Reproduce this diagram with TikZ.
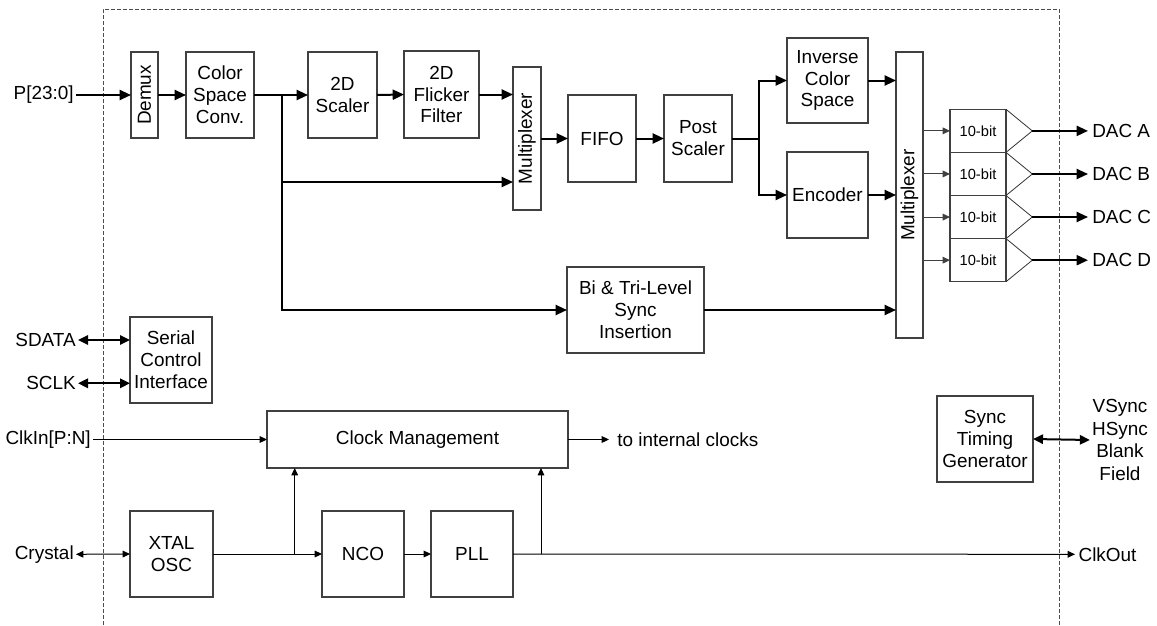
\documentclass[tikz,border=0pt]{standalone}
\usepackage{fontspec}
\setmainfont{Liberation Sans}
\usetikzlibrary{arrows.meta}
\tikzset{
  x=0.75pt, y=-0.75pt,
  box/.style={draw=black!75, line width=0.8pt, inner sep=0pt, outer sep=0pt, align=center, font=\fontsize{14.2}{16.4}\selectfont},
  lbl/.style={inner sep=1.5pt, align=center, font=\fontsize{14.2}{16.8}\selectfont},
  thk/.style={line width=1.5pt, -{Triangle[length=8.5pt,width=7.5pt]}},
  thkb/.style={line width=1.5pt, {Triangle[length=7.5pt,width=7pt]}-{Triangle[length=7.5pt,width=7pt]}},
  thn/.style={line width=0.75pt, -{Triangle[length=5.5pt,width=5pt]}},
  thnb/.style={line width=0.75pt, {Triangle[length=5.5pt,width=5pt]}-{Triangle[length=5.5pt,width=5pt]}},
  thkplain/.style={line width=1.5pt},
  thnplain/.style={line width=0.75pt},
  border/.style={draw=black!70, line width=0.6pt, dash pattern=on 3pt off 1.5pt},
  tri/.style={draw=black!80, line width=0.6pt},
}
\newcommand\blk[6]{\node[box, minimum width={(#4-#2)*0.75pt}, minimum height={(#5-#3)*0.75pt}] (#1) at ({(#2+#4)/2},{(#3+#5)/2}) {#6};}
\begin{document}
\begin{tikzpicture}
\useasboundingbox (0,0) rectangle (1157,625);
% border
\draw[border] (103,625) -- (103,9) -- (1059.5,9) -- (1059.5,625);

% blocks
\blk{demux}{131}{52}{158}{138}{\rotatebox{90}{Demux}}
\blk{csc}{186}{52}{254}{138}{Color\\Space\\Conv.}
\blk{sc2d}{308}{52}{377}{138}{2D\\Scaler}
\blk{flick}{404}{51}{479}{138}{2D\\Flicker\\Filter}
\blk{muxa}{513}{67}{541}{210}{\rotatebox{90}{Multiplexer}}
\blk{fifo}{568}{95}{636}{182}{FIFO}
\blk{post}{664}{95}{732}{182}{Post\\Scaler}
\blk{ics}{787}{38}{868}{123}{Inverse\\Color\\Space}
\blk{enc}{787}{152}{868}{238}{Encoder}
\blk{muxb}{896}{52}{923}{338}{\rotatebox{90}{Multiplexer}}
\begin{scope}[box/.append style={font=\fontsize{11}{13}\selectfont}]
\blk{dA}{950}{109.3}{1006}{152.4}{10-bit}
\blk{dB}{950}{152.4}{1006}{195.5}{10-bit}
\blk{dC}{950}{195.5}{1006}{238.6}{10-bit}
\blk{dD}{950}{238.6}{1006}{281.7}{10-bit}
\end{scope}
\blk{bts}{567}{267}{704}{353}{Bi \& Tri-Level\\Sync\\Insertion}
\blk{sci}{130}{317}{212}{403}{Serial\\Control\\Interface}
\blk{cm}{267}{411}{568}{468}{Clock Management}
\blk{xtal}{130}{511}{213}{597}{XTAL\\OSC}
\blk{nco}{322}{511}{404}{597}{NCO}
\blk{pll}{431}{511}{513}{597}{PLL}
\blk{stg}{937}{396}{1033}{482}{Sync\\Timing\\Generator}

% labels
\node[lbl, anchor=east] (pin) at (76,95) {P[23:0]};
\node[lbl, anchor=east] (sdata) at (78,340) {SDATA};
\node[lbl, anchor=east] (sclk) at (78,383.3) {SCLK};
\node[lbl, anchor=east] (clkin) at (93,439.5) {ClkIn[P:N]};
\node[lbl, anchor=east] (crystal) at (76,554.3) {Crystal};
\node[lbl, anchor=west, inner xsep=6pt] (intclk) at (609,439.5) {to internal clocks};
\node[lbl, anchor=west, inner xsep=2.5pt] (clkout) at (1075,554.3) {ClkOut};
\node[lbl] (sigs) at (1120,440) {VSync\\HSync\\Blank\\Field};
\node[lbl, anchor=west, inner xsep=3pt] (dacA) at (1088,130.9) {DAC A};
\node[lbl, anchor=west, inner xsep=3pt] (dacB) at (1088,174) {DAC B};
\node[lbl, anchor=west, inner xsep=3pt] (dacC) at (1088,217) {DAC C};
\node[lbl, anchor=west, inner xsep=3pt] (dacD) at (1088,260.2) {DAC D};

% coordinates
\coordinate (j1) at (282,95);
\coordinate (j2) at (282,182);
\coordinate (j3) at (759,138.5);
\coordinate (j4) at (294.7,554.3);
\coordinate (j5) at (541,554.3);
\coordinate (tA) at (1032.3,130.9);
\coordinate (tB) at (1032.3,174);
\coordinate (tC) at (1032.3,217);
\coordinate (tD) at (1032.3,260.2);

% top data path
\draw[thk] (pin.east) -- (demux.west);
\draw[thk] (demux.east) -- (csc.west);
\draw[thk] (csc.east) -- (sc2d.west);
\draw[thk] (sc2d.east) -- (flick.west);
\draw[thk] (flick.east) -- (flick.east -| muxa.west);
\draw[thk] (j1) |- (bts.west);
\draw[thk] (j2) -- (j2 -| muxa.west);
\draw[thk] (muxa.east |- fifo.west) -- (fifo.west);
\draw[thk] (fifo.east) -- (post.west);
\draw[thkplain] (post.east) -- (j3);
\draw[thk] (j3) |- (ics.west);
\draw[thk] (j3) |- (enc.west);
\draw[thk] (ics.east) -- (ics.east -| muxb.west);
\draw[thk] (enc.east) -- (enc.east -| muxb.west);
\draw[thk] (bts.east) -- (bts.east -| muxb.west);
\foreach \d in {dA,dB,dC,dD}{
  \draw[thn, draw=black!75] (muxb.east |- \d.west) -- (\d.west);
}
% DAC triangles and outputs
\foreach \d/\t/\o in {dA/tA/dacA, dB/tB/dacB, dC/tC/dacC, dD/tD/dacD}{
  \draw[tri] (\d.north east) -- (\t) -- (\d.south east);
  \draw[thk] (\t) -- (\o.west);
}

% serial
\draw[thkb] (sdata.east) -- (sdata.east -| sci.west);
\draw[thkb] (sclk.east) -- (sclk.east -| sci.west);

% clocks
\draw[thn] (clkin.east) -- (cm.west);
\draw[thn] (cm.east) -- (intclk.west);
\draw[thnb] (crystal.east) -- (xtal.west);
\draw[thn] (xtal.east) -- (nco.west);
\draw[thn] (j4) -- (j4 |- cm.south);
\draw[thn] (nco.east) -- (pll.west);
\draw[thn] (pll.east) -- (clkout.west);
\draw[thn] (j5) -- (j5 |- cm.south);

% sync timing
\draw[thkb] (stg.east) -- (sigs.west);
\end{tikzpicture}
\end{document}
